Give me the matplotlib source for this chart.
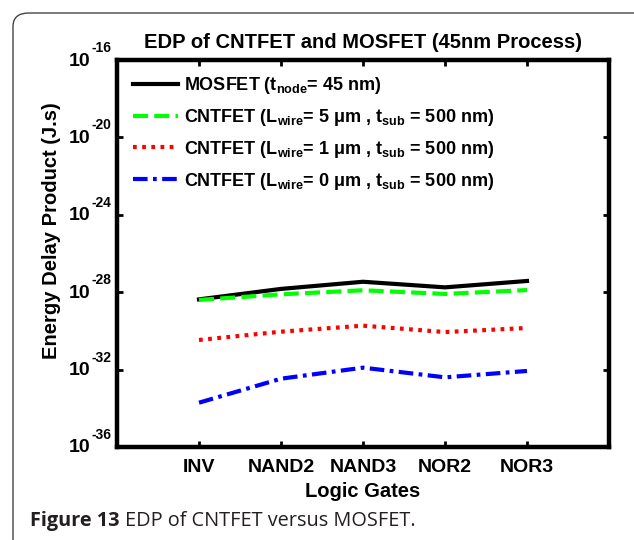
import matplotlib
matplotlib.use("Agg")
import matplotlib.pyplot as plt
from matplotlib.patches import FancyBboxPatch
import numpy as np

gates = ["INV", "NAND2", "NAND3", "NOR2", "NOR3"]
mosfet_exp = [-28.37, -27.83, -27.46, -27.75, -27.42]
cnt5_exp = [-28.40, -28.11, -27.90, -28.09, -27.89]
cnt1_exp = [-30.47, -30.04, -29.73, -30.06, -29.85]
cnt0_exp = [-33.71, -32.47, -31.90, -32.40, -32.07]
ytick_exp = [-36, -32, -28, -24, -20, -16]
labels = [
    "MOSFET (t$_{node}$= 45 nm)",
    "CNTFET (L$_{wire}$= 5 μm , t$_{sub}$ = 500 nm)",
    "CNTFET (L$_{wire}$= 1 μm , t$_{sub}$ = 500 nm)",
    "CNTFET (L$_{wire}$= 0 μm , t$_{sub}$ = 500 nm)",
]

plt.rcParams["font.family"] = ["Liberation Sans", "DejaVu Sans"]
plt.rcParams["font.weight"] = "bold"
plt.rcParams["mathtext.fontset"] = "custom"
plt.rcParams["mathtext.rm"] = "Liberation Sans:bold"
plt.rcParams["mathtext.bf"] = "Liberation Sans:bold"
plt.rcParams["mathtext.it"] = "Liberation Sans:bold"
plt.rcParams["mathtext.default"] = "bf"

fig = plt.figure(figsize=(6.34, 5.40), dpi=100)
W, H = 634, 540
ax = fig.add_axes([117 / W, 1 - 447 / H, (609 - 117) / W, (447 - 60) / H])

x = np.arange(1, len(gates) + 1)
ax.plot(x, 10.0 ** np.array(mosfet_exp), color="black", lw=3.0, linestyle="-", label=labels[0])
ax.plot(x, 10.0 ** np.array(cnt5_exp), color="#00ff00", lw=3.0, linestyle=(0, (3.6, 1.5)), label=labels[1])
ax.plot(x, 10.0 ** np.array(cnt1_exp), color="#ff0000", lw=3.0, linestyle=(0, (0.9, 1.3)), label=labels[2])
ax.plot(x, 10.0 ** np.array(cnt0_exp), color="#0000ff", lw=3.0, linestyle=(0, (3.5, 1.3, 0.9, 1.3)), label=labels[3])

ax.set_yscale("log")
ax.set_ylim(1e-36, 1e-16)
ax.set_xlim(0, 6)
ax.set_yticks([10.0 ** e for e in ytick_exp])
ax.set_yticklabels([])
ax.yaxis.set_minor_locator(matplotlib.ticker.NullLocator())
ax.set_xticks(x)
ax.set_xticklabels(gates, fontsize=14, fontweight="bold")
ax.tick_params(axis="both", which="major", direction="in", length=4, width=2,
               top=True, right=True, pad=9)
for s in ax.spines.values():
    s.set_linewidth(3.2)

# MATLAB-style y tick labels: large "10" with raised exponent
ytrans = ax.get_yaxis_transform()
for e in ytick_exp:
    ax.annotate("10", xy=(0, 10.0 ** e), xycoords=ytrans, xytext=(-27, -1),
                textcoords="offset pixels", ha="right", va="center",
                fontsize=14, fontweight="bold", annotation_clip=False)
    ax.annotate("-%d" % (-e), xy=(0, 10.0 ** e), xycoords=ytrans, xytext=(-26, 12),
                textcoords="offset pixels", ha="left", va="center",
                fontsize=10, fontweight="bold", annotation_clip=False)

ax.set_xlabel("Logic Gates", fontsize=14.5, fontweight="bold", labelpad=4)
ax.set_ylabel("Energy Delay Product (J.s)", fontsize=14.5, fontweight="bold")
ax.yaxis.set_label_coords(-0.113, 0.558)
ax.set_title("EDP of CNTFET and MOSFET (45nm Process)", fontsize=14.5, fontweight="bold", pad=9)

leg = ax.legend(loc="upper left", frameon=False, fontsize=13, handlelength=2.5,
                handletextpad=0.3, labelspacing=0.6, borderpad=0, borderaxespad=0,
                bbox_to_anchor=(16 / 492, 1 - 15 / 387))

box = FancyBboxPatch((13 / W, -0.05), (W + 40) / W, 1 - 13 / H + 0.05,
                     boxstyle="round,pad=0,rounding_size=0.025",
                     transform=fig.transFigure, fill=False, edgecolor="#444444", lw=1.0)
fig.patches.append(box)

cap_font = ["Open Sans", "DejaVu Sans"]
t1 = fig.text(30 / W, 1 - 521 / H, "Figure 13 ", fontsize=14.3, fontweight="bold",
              family=cap_font, color="#231f20", va="center", ha="left")
fig.canvas.draw()
bb = t1.get_window_extent()
fig.text(bb.x1 / W, 1 - 521 / H, "EDP of CNTFET versus MOSFET.", fontsize=14.3, fontweight="normal",
         family=cap_font, color="#231f20", va="center", ha="left")

fig.savefig("out.png", dpi=100)
